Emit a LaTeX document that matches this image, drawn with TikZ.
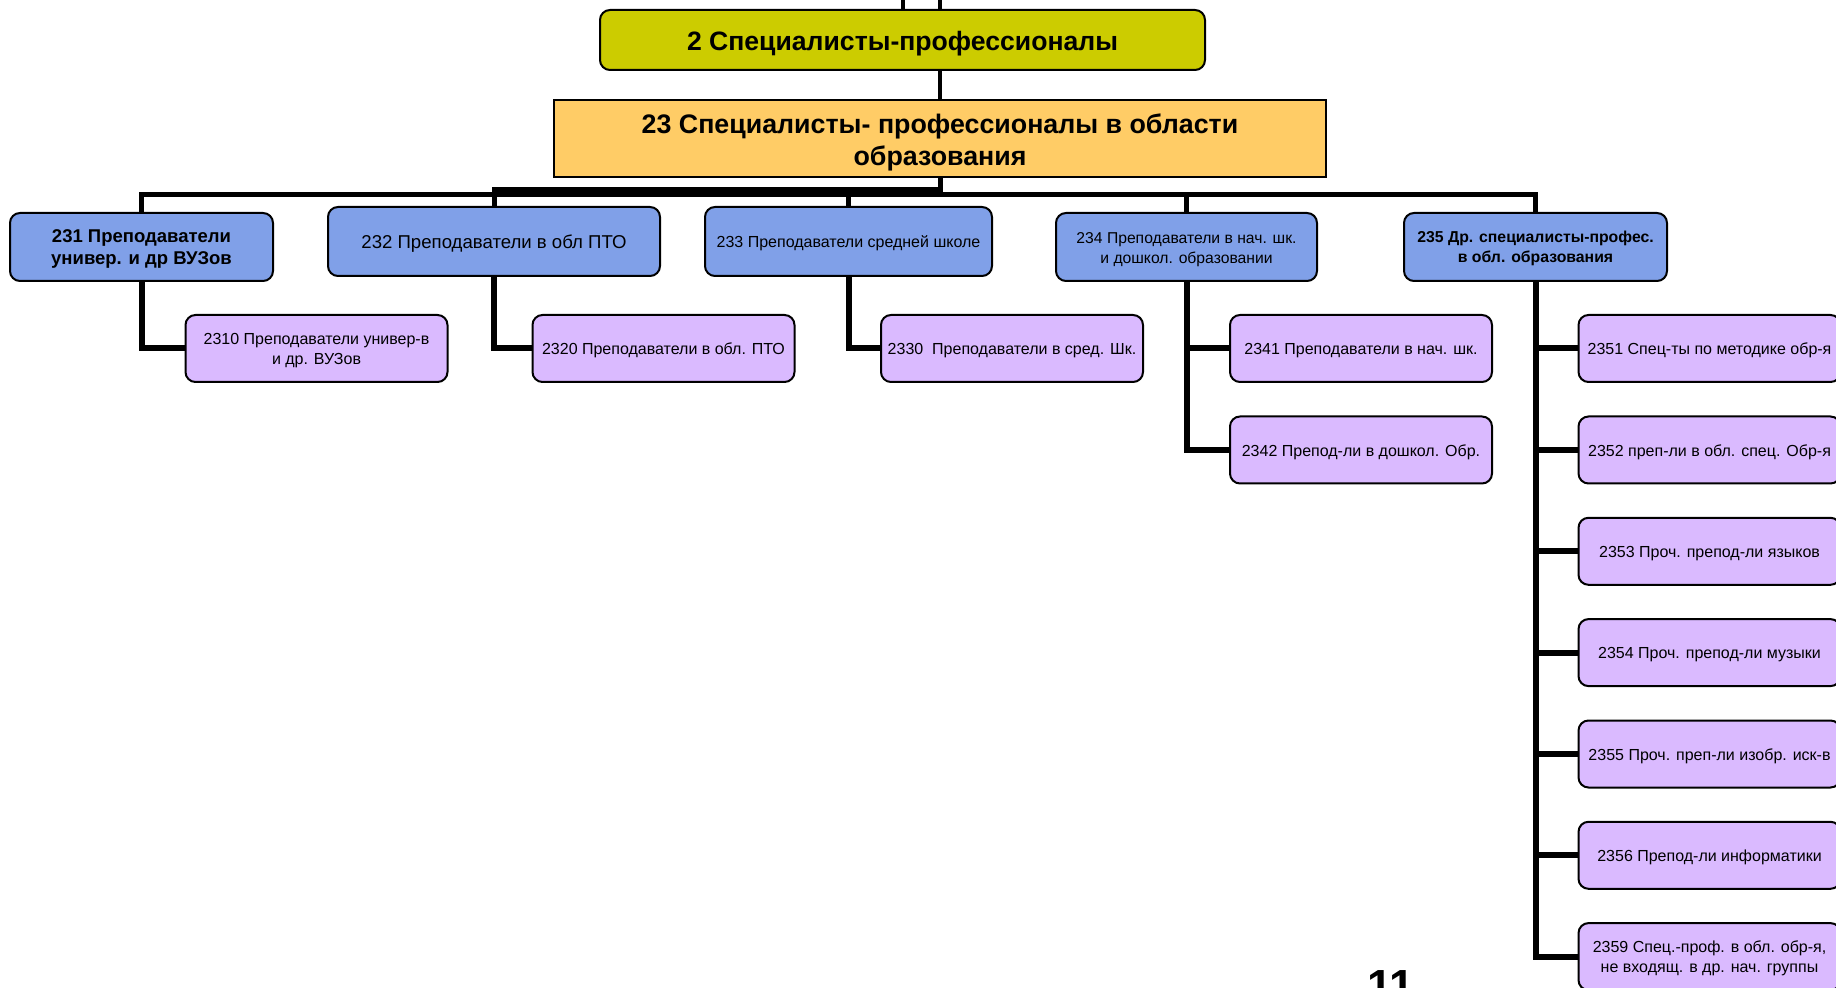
\documentclass[tikz,border=0pt]{standalone}
\usepackage{fontspec}
\setmainfont{Liberation Sans}
\definecolor{olive2}{RGB}{204,204,0}
\definecolor{orange2}{RGB}{255,204,102}
\definecolor{blue2}{RGB}{128,160,232}
\definecolor{purp}{RGB}{218,186,255}
\newcommand\mkleaf[3]{%
  \node[lvlthree] (#1) at (#2) {};
  \node[leaftxt] (#1t) at ([yshift=-1pt]#1.center) {#3};}
\begin{document}
\begin{tikzpicture}[x=0.5pt,y=-0.5pt,
  box/.style={draw=black, line width=1pt, rounded corners=5pt, inner sep=0pt},
  txt/.style={inner sep=0pt, align=center, text=black},
  lvltwo/.style={box, fill=blue2},
  lvlthree/.style={box, fill=purp, minimum width=131pt, minimum height=33.5pt},
  leaftxt/.style={txt, font=\fontsize{8}{10}\selectfont},
  conn/.style={line width=3pt},
  busline/.style={line width=2.5pt},
  topline/.style={line width=2pt}
]
\useasboundingbox (0,0) rectangle (1836,988);

% top levels
\node[box, fill=olive2, minimum width=302.5pt, minimum height=30pt] (b2) at (902.5,40) {};
\node[txt, font=\bfseries\fontsize{13.3}{16}\selectfont] (b2t) at ([yshift=-1.6pt]b2.center)
  {2 Специалисты-профессионалы};
\node[box, rounded corners=0pt, fill=orange2, minimum width=386pt, minimum height=38.5pt] (b23) at (940,138.5) {};
\node[txt, font=\bfseries\fontsize{13.4}{16}\selectfont] (b23t) at ([yshift=-1.8pt]b23.center)
  {23 Специалисты- профессионалы в области\\образования};

% second level
\node[lvltwo, minimum width=131.5pt, minimum height=34pt] (b231) at (141.5,247) {};
\node[txt, font=\bfseries\fontsize{9.25}{11}\selectfont] (b231t) at ([yshift=-1.2pt]b231.center)
  {231 Преподаватели\\универ. и др ВУЗов};
\node[lvltwo, minimum width=166pt, minimum height=34.5pt] (b232) at (494,241.5) {};
\node[txt, font=\fontsize{9.3}{11}\selectfont] (b232t) at ([yshift=-1.2pt]b232.center)
  {232 Преподаватели в обл ПТО};
\node[lvltwo, minimum width=143.5pt, minimum height=34.5pt] (b233) at (848.5,241.5) {};
\node[txt, font=\fontsize{8}{10}\selectfont] (b233t) at ([yshift=-1pt]b233.center)
  {233 Преподаватели средней школе};
\node[lvltwo, minimum width=130.5pt, minimum height=34pt] (b234) at (1186.5,247) {};
\node[txt, font=\fontsize{7.85}{10}\selectfont] (b234t) at ([yshift=-1.2pt]b234.center)
  {234 Преподаватели в нач. шк.\\и дошкол. образовании};
\node[lvltwo, minimum width=131.5pt, minimum height=34pt] (b235) at (1535.5,247) {};
\node[txt, font=\bfseries\fontsize{7.9}{10}\selectfont] (b235t) at ([yshift=-0.8pt]b235.center)
  {235 Др. специалисты-профес.\\в обл. образования};

% third level
\mkleaf{c2310}{316.5,348.5}{2310 Преподаватели универ-в\\и др. ВУЗов}
\mkleaf{c2320}{663.5,348.5}{2320 Преподаватели в обл. ПТО}
\mkleaf{c2330}{1012,348.5}{2330\ \ Преподаватели в сред. Шк.}
\mkleaf{c2341}{1361,348.5}{2341 Преподаватели в нач. шк.}
\mkleaf{c2342}{1361,450}{2342 Препод-ли в дошкол. Обр.}
\mkleaf{c2351}{1709.5,348.5}{2351 Спец-ты по методике обр-я}
\mkleaf{c2352}{1709.5,450}{2352 преп-ли в обл. спец. Обр-я}
\mkleaf{c2353}{1709.5,551.3}{2353 Проч. препод-ли языков}
\mkleaf{c2354}{1709.5,652.6}{2354 Проч. препод-ли музыки}
\mkleaf{c2355}{1709.5,754}{2355 Проч. преп-ли изобр. иск-в}
\mkleaf{c2356}{1709.5,855.3}{2356 Препод-ли информатики}
\mkleaf{c2359}{1709.5,956.6}{2359 Спец.-проф. в обл. обр-я,\\не входящ. в др. нач. группы}

% page number
\node[font=\bfseries\fontsize{22.5}{27}\selectfont, anchor=base, inner sep=0pt] (pg) at (1391,1001) {11};

% connectors
\coordinate (ta) at (903,0);
\coordinate (tb) at (940,0);
\draw[topline] (ta) -- (ta |- b2.north);
\draw[topline] (tb) -- (tb |- b2.north);
\draw[topline] (b23.north) -- (b23.north |- b2.south);

\coordinate (bus) at (940,194.5);
\coordinate (busa) at (940,190);
\draw[busline] (b23.south) -- (bus) -| (b231.north);
\draw[busline] (b23.south) -- (busa) -| (b232.north);
\draw[busline] (bus) -| (b233.north);
\draw[busline] (bus) -| (b234.north);
\draw[busline] (bus) -| (b235.north);

\draw[conn] (b231.south) |- (c2310.west);
\draw[conn] (b232.south) |- (c2320.west);
\draw[conn] (b233.south) |- (c2330.west);
\draw[conn] (b234.south) |- (c2341.west);
\draw[conn] (b234.south) |- (c2342.west);
\foreach \c in {c2351,c2352,c2353,c2354,c2355,c2356,c2359}
  \draw[conn] (b235.south) |- (\c.west);
\end{tikzpicture}
\end{document}
